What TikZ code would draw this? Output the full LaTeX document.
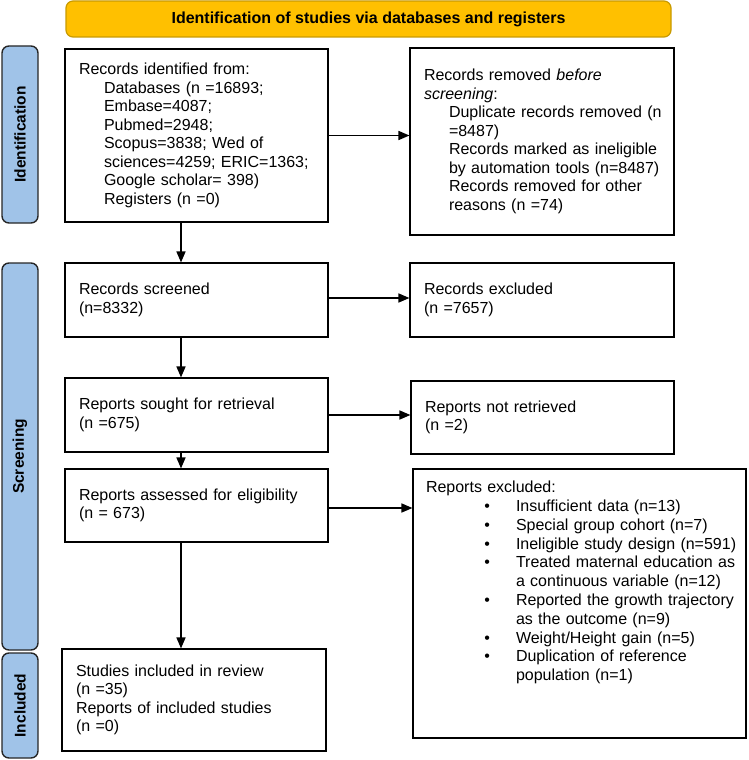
\documentclass[tikz,border=0pt]{standalone}
\usepackage{fontspec}
\setmainfont{Liberation Sans}
\usetikzlibrary{arrows.meta,positioning}
\definecolor{bannergold}{HTML}{FFC000}
\definecolor{bannerrim}{HTML}{C89A00}
\definecolor{sideblue}{HTML}{A0C3E8}

\newcommand{\ind}[1]{\hspace*{25pt}\mbox{#1}}
\newcommand{\bul}[1]{\hspace*{90pt}\llap{\textbullet\hspace*{26pt}}\mbox{#1}}
\newcommand{\cont}[1]{\hspace*{90pt}\mbox{#1}}

\begin{document}
\begin{tikzpicture}[x=1pt, y=-1pt,
    every node/.style={font=\fontsize{16}{18.5}\selectfont},
    box/.style={draw, line width=1.1pt, align=left, inner xsep=14pt, minimum height=74pt, text width=235pt},
    side/.style={draw=black!85, fill=sideblue, line width=1.4pt, rounded corners=7pt, rotate=90, minimum height=36pt, font=\fontsize{15.5}{18}\selectfont\bfseries},
    flow/.style={line width=1.5pt, -{Triangle[length=11pt, width=9pt]}}]
        \useasboundingbox (0,0) rectangle (748,760);

        % banner and phase labels
        \node[draw=bannerrim, fill=bannergold, line width=1.2pt, rounded corners=7pt, minimum width=605pt, minimum height=36pt, font=\fontsize{16}{18}\selectfont\bfseries] (banner) at (368.5, 19) {Identification of studies via databases and registers};
        \node[side, minimum width=177pt] (sideid) at (20, 134.5) {Identification};
        \node[side, minimum width=387pt] (sidescr) at (20, 456.5) {Screening};
        \node[side, minimum width=105pt] (sideinc) at (20, 705.5) {Included};

        % left column
        \node[box, minimum height=173pt] (ident) at (196.5, 135.5) {Records identified from:\\
            \ind{Databases (n =16893;}\\
            \ind{Embase=4087;}\\
            \ind{Pubmed=2948;}\\
            \ind{Scopus=3838; Wed of}\\
            \ind{sciences=4259; ERIC=1363;}\\
            \ind{Google scholar= 398)}\\
            \ind{Registers (n =0)}};
        \node[box] (screened) at (196.5, 300) {Records screened\\(n=8332)};
        \node[box] (sought) at (196.5, 415) {Reports sought for retrieval\\(n =675)};
        \node[box, minimum height=73pt] (assessed) at (196.5, 505.5) {Reports assessed for eligibility\\(n = 673)};
        \node[box, minimum height=102pt, text width=236pt] (included) at (194, 700) {Studies included in review\\(n =35)\\Reports of included studies\\(n =0)};

        % right column
        \node[box, minimum height=187pt, text width=236pt] (removed) at (542, 141.5) {Records removed \textit{before}\\
            \textit{screening}:\\
            \ind{Duplicate records removed (n}\\
            \ind{=8487)}\\
            \ind{Records marked as ineligible}\\
            \ind{by automation tools (n=8487)}\\
            \ind{Records removed for other}\\
            \ind{reasons (n =74)}};
        \node[box, text width=236pt] (excluded) at (542, 300) {Records excluded\\(n =7657)};
        \node[box, minimum height=73pt, text width=235pt] (notret) at (542.5, 417.5) {Reports not retrieved\\(n =2)};
        \node[box, minimum height=269pt, text width=307pt, inner xsep=13pt] (rexcl) at (579.5, 603.5) {\parbox[c][245pt][t]{307pt}{\fontsize{16}{18.8}\selectfont\raggedright Reports excluded:\\
            \bul{Insufficient data (n=13)}\\
            \bul{Special group cohort (n=7)}\\
            \bul{Ineligible study design (n=591)}\\
            \bul{Treated maternal education as}\\
            \cont{a continuous variable (n=12)}\\
            \bul{Reported the growth trajectory}\\
            \cont{as the outcome (n=9)}\\
            \bul{Weight/Height gain (n=5)}\\
            \bul{Duplication of reference}\\
            \cont{population (n=1)}}};

        % connectors
        \draw[flow] (ident.east) -- (ident.east -| removed.west);
        \draw[flow] ([yshift=2pt]screened.east) -- ([yshift=2pt]screened.east -| excluded.west);
        \draw[flow] (sought.east) -- (sought.east -| notret.west);
        \draw[flow] ([yshift=-2.5pt]assessed.east) -- ([yshift=-2.5pt]assessed.east -| rexcl.west);
        \draw[flow] ([xshift=-15.5pt]ident.south) -- ([xshift=-15.5pt]ident.south |- screened.north);
        \draw[flow] ([xshift=-15.5pt]screened.south) -- ([xshift=-15.5pt]screened.south |- sought.north);
        \draw[flow] ([xshift=-15.5pt]sought.south) -- ([xshift=-15.5pt]sought.south |- assessed.north);
        \draw[flow] ([xshift=-15.5pt]assessed.south) -- ([xshift=-15.5pt]assessed.south |- included.north);
\end{tikzpicture}
\end{document}
